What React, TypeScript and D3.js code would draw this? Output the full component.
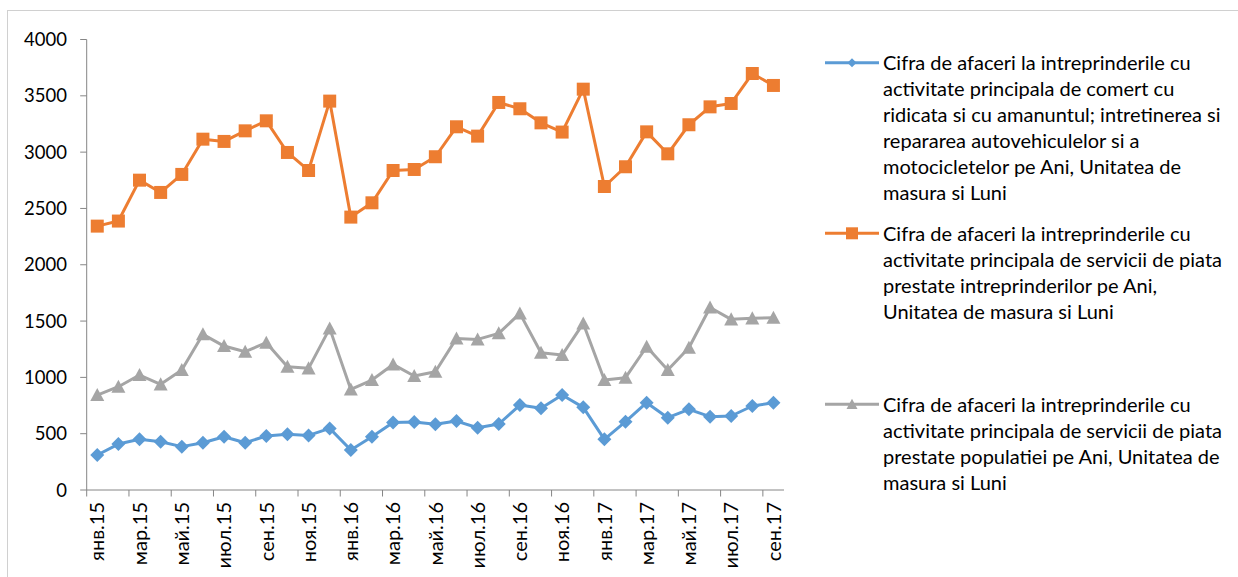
import React from "react";
import * as d3 from "d3";

const months = [
  "янв.15", "фев.15", "мар.15", "апр.15", "май.15", "июн.15", "июл.15", "авг.15", "сен.15", "окт.15", "ноя.15", "дек.15",
  "янв.16", "фев.16", "мар.16", "апр.16", "май.16", "июн.16", "июл.16", "авг.16", "сен.16", "окт.16", "ноя.16", "дек.16",
  "янв.17", "фев.17", "мар.17", "апр.17", "май.17", "июн.17", "июл.17", "авг.17", "сен.17",
];

const tradeValues = [
  311, 408, 450, 429, 385, 420, 473, 420, 479, 494, 485, 547,
  355, 473, 600, 603, 583, 612, 553, 586, 754, 725, 843, 734,
  450, 607, 775, 642, 716, 651, 657, 746, 775,
];

const businessServices = [
  2343, 2388, 2751, 2642, 2802, 3115, 3095, 3189, 3278, 2997, 2837, 3453,
  2423, 2550, 2837, 2846, 2959, 3225, 3142, 3441, 3385, 3260, 3178, 3559,
  2695, 2870, 3180, 2985, 3243, 3402, 3432, 3698, 3592,
];

const populationServices = [
  843, 917, 1021, 938, 1065, 1382, 1278, 1228, 1308, 1095, 1080, 1435,
  893, 976, 1115, 1012, 1050, 1346, 1337, 1391, 1568, 1219, 1198, 1479,
  976, 997, 1272, 1065, 1263, 1621, 1515, 1524, 1530,
];

const yTicks = [0, 500, 1000, 1500, 2000, 2500, 3000, 3500, 4000];

const legendTrade = [
  "Cifra de afaceri la intreprinderile cu",
  "activitate principala de comert cu",
  "ridicata si cu amanuntul; intretinerea si",
  "repararea autovehiculelor si a",
  "motocicletelor pe Ani, Unitatea de",
  "masura si Luni",
];
const legendBusiness = [
  "Cifra de afaceri la intreprinderile cu",
  "activitate principala de servicii de piata",
  "prestate intreprinderilor pe Ani,",
  "Unitatea de masura si Luni",
];
const legendPopulation = [
  "Cifra de afaceri la intreprinderile cu",
  "activitate principala de servicii de piata",
  "prestate populatiei pe Ani, Unitatea de",
  "masura si Luni",
];

const FONT = "Lato, 'Open Sans', sans-serif";

type Series = {
  name: string;
  values: number[];
  color: string;
  marker: "diamond" | "square" | "triangle";
  legend: string[];
  legendY: number;
};

const series: Series[] = [
  { name: "trade", values: tradeValues, color: "#5b9bd5", marker: "diamond", legend: legendTrade, legendY: 62.7 },
  { name: "business", values: businessServices, color: "#ed7d31", marker: "square", legend: legendBusiness, legendY: 233.3 },
  { name: "population", values: populationServices, color: "#a5a5a5", marker: "triangle", legend: legendPopulation, legendY: 404.3 },
];

function markerPath(kind: string, s: number): string {
  if (kind === "diamond") return `M0,${-s}L${s},0L0,${s}L${-s},0Z`;
  if (kind === "square") return `M${-s},${-s}H${s}V${s}H${-s}Z`;
  return `M0,${-s}L${s},${s * 0.86}L${-s},${s * 0.86}Z`;
}

export default function App() {
  const left = 86.7;
  const right = 784;
  const top = 39.5;
  const bottom = 490;

  const x = d3.scaleBand<string>().domain(months).range([left, right]).paddingInner(0).paddingOuter(0);
  const y = d3.scaleLinear().domain([0, 4000]).range([bottom, top]);
  const cx = (m: string) => (x(m) as number) + x.bandwidth() / 2;

  const line = d3
    .line<number>()
    .x((_, i) => cx(months[i]))
    .y((v) => y(v));

  const axisColor = "#868686";

  return (
    <svg width={1238} height={577} style={{ position: "absolute", left: 0, top: 0, background: "#fff" }}>
      <rect x={7.5} y={10.5} width={1400} height={700} fill="#fff" stroke="#d0d0d0" strokeWidth={1} />

      {/* Y axis */}
      <line x1={left} x2={left} y1={top} y2={bottom} stroke={axisColor} strokeWidth={1} />
      {yTicks.map((t) => (
        <g key={t}>
          <line x1={left - 6.5} x2={left} y1={y(t)} y2={y(t)} stroke={axisColor} strokeWidth={1} />
          <text x={67} y={y(t)} dy="0.36em" textAnchor="end" fontFamily={FONT} fontSize={18.5} fill="#000">
            {t}
          </text>
        </g>
      ))}

      {/* X axis */}
      <line x1={left} x2={right} y1={bottom} y2={bottom} stroke={axisColor} strokeWidth={1} />
      {months.map((m, i) =>
        i % 2 === 0 ? (
          <g key={m}>
            <line x1={x(m) as number} x2={x(m) as number} y1={bottom} y2={bottom + 6.5} stroke={axisColor} strokeWidth={1} />
            <text
              transform={`translate(${cx(m)},${502}) rotate(-90)`}
              dy="0.36em"
              textAnchor="end"
              fontFamily={FONT}
              fontSize={20}
              fill="#000"
            >
              {m}
            </text>
          </g>
        ) : null
      )}

      {/* Series */}
      {series.map((s) => (
        <g key={s.name}>
          <path d={line(s.values) || ""} fill="none" stroke={s.color} strokeWidth={3} strokeLinejoin="round" />
          {s.values.map((v, i) => (
            <path
              key={i}
              transform={`translate(${cx(months[i])},${y(v)})`}
              d={markerPath(s.marker, s.marker === "square" ? 6.5 : 7)}
              fill={s.color}
            />
          ))}
        </g>
      ))}

      {/* Legend */}
      {series.map((s) => (
        <g key={"lg" + s.name}>
          <line x1={825} x2={879} y1={s.legendY} y2={s.legendY} stroke={s.color} strokeWidth={3} />
          <path
            transform={`translate(852,${s.legendY})`}
            d={markerPath(s.marker, s.marker === "square" ? 6 : s.marker === "diamond" ? 4.5 : 5.5)}
            fill={s.color}
          />
          {s.legend.map((ln, j) => (
            <text key={j} x={883} y={s.legendY + j * 26} dy="0.36em" fontFamily={FONT} fontSize={20} fill="#000">
              {ln}
            </text>
          ))}
        </g>
      ))}
    </svg>
  );
}
